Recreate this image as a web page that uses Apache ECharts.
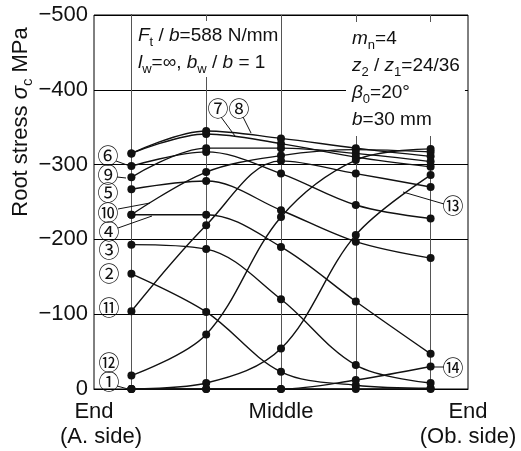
<!DOCTYPE html>
<html><head><meta charset="utf-8">
<script src="https://cdn.jsdelivr.net/npm/echarts@6/dist/echarts.min.js"></script>
<style>html,body{margin:0;padding:0;background:#fff}#c{width:521px;height:451px}</style>
</head><body><div id="c"></div>
<script>
// positions along face width (End A-side ... Middle ... End Ob-side)
const positions = [0, 1, 2, 3, 4];
const xTickValues = [-0.5, 2, 4.5];
const xTickLabels = ['{n|End}\n{a|(A. side)}', '{n|Middle}', '{n|End}\n{n|(Ob. side)}'];
const seriesNames = ['①','②','③','④','⑤','⑥','⑦','⑧','⑨','⑩','⑪','⑫','⑬','⑭'];
// root stress values, MPa
const s01 = [0, 0, 0, 0, 0];
const s02 = [-154, -103, -23, -5, -1];
const s03 = [-193, -187, -120, -32, -8];
const s04 = [-233, -233, -190, -117, -47];
const s05 = [-267, -278, -239, -197, -175];
const s06 = [-298, -317, -288, -246, -228];
const s07 = [-315, -341, -328, -310, -297];
const s08 = [-315, -345, -335, -322, -311];
const s09 = [-283, -322, -322, -315, -304];
const s10 = [-233, -290, -312, -320, -317];
const s11 = [-104, -219, -305, -288, -270];
const s12 = [-18, -73, -230, -306, -321];
const s13 = [0, -8, -54, -206, -286];
const s14 = [0, 0, 0, -12, -30];
const allSeries = [s01,s02,s03,s04,s05,s06,s07,s08,s09,s10,s11,s12,s13,s14];

const INK = '#111';
const FONT = 'Liberation Sans, Arial, sans-serif';
const chart = echarts.init(document.getElementById('c'), null, {renderer: 'canvas'});

const series = allSeries.map((vals, k) => {
  const s = {
    type: 'line', name: seriesNames[k],
    data: positions.map((p, i) => [p, vals[i]]),
    smooth: 0.35, symbol: 'circle', symbolSize: 8,
    itemStyle: {color: INK}, lineStyle: {color: INK, width: 1.4},
    z: 3, animation: false
  };
  if (k === 0) {
    s.markLine = {
      silent: true, symbol: ['none', 'none'], label: {show: false}, z: 1,
      lineStyle: {color: '#555', width: 1, type: 'solid'},
      animation: false,
      data: positions.map(p => ({xAxis: p}))
    };
  }
  return s;
});

const annRich = {
  n: {fontSize: 19, fontFamily: FONT, lineHeight: 27, fill: INK},
  i: {fontSize: 19, fontFamily: FONT, fontStyle: 'italic', lineHeight: 27, fill: INK},
  s: {fontSize: 13, fontFamily: FONT, verticalAlign: 'bottom', lineHeight: 17, fill: INK}
};
const nameRich = {
  n: {fontSize: 22, fontFamily: FONT, lineHeight: 28, fill: INK},
  i: {fontSize: 22, fontFamily: FONT, fontStyle: 'italic', lineHeight: 28, fill: INK},
  s: {fontSize: 15, fontFamily: FONT, verticalAlign: 'bottom', lineHeight: 19, fill: INK}
};

function circ(t, x, y) {
  return {type: 'text', x: x, y: y, z: 100, silent: true,
    style: {text: t, fontSize: 21, fontFamily: '"Noto Sans CJK JP", "DejaVu Sans"', fill: INK, align: 'center', verticalAlign: 'middle'}};
}
function lead(x1, y1, x2, y2) {
  return {type: 'line', z: 100, silent: true, shape: {x1, y1, x2, y2}, style: {stroke: INK, lineWidth: 1}};
}

const graphics = [
  {type: 'text', x: 21, y: 122, rotation: Math.PI / 2, z: 100, silent: true,
   style: {text: '{n|Root stress }{i|σ}{s|c}{n| MPa}', rich: nameRich, align: 'center', verticalAlign: 'middle'}},
  {type: 'text', x: 136, y: 21, z: 100, silent: true,
   style: {text: '{i|F}{s|t}{n| / }{i|b}{n|=588 N/mm}\n{i|l}{s|w}{n|=∞, }{i|b}{s|w}{n| / }{i|b}{n| = 1}',
     rich: annRich, backgroundColor: '#fff', padding: [1, 2, 1, 2]}},
  {type: 'text', x: 346, y: 22, z: 100, silent: true,
   style: {text: '{i|m}{s|n}{n|=4}\n{i|z}{s|2}{n| / }{i|z}{s|1}{n|=24/36}\n{i|β}{s|0}{n|=20°}\n{i|b}{n|=30 mm}',
     rich: annRich, backgroundColor: '#fff', padding: [3, 5, 3, 6]}},
  circ('⑥', 108, 155), circ('⑨', 108, 174), circ('⑤', 108, 192), circ('⑩', 108, 212),
  circ('④', 109, 231), circ('③', 109, 249), circ('②', 109, 273), circ('⑪', 109, 307),
  circ('⑫', 109, 362), circ('①', 109, 381),
  circ('⑦', 218, 108), circ('⑧', 239, 108), circ('⑬', 453, 205), circ('⑭', 453, 367),
  lead(116, 161, 130, 166), lead(117, 177, 126, 178), lead(118, 209, 150, 203),
  lead(118, 228, 152, 216), lead(117, 386, 128, 389),
  lead(221, 117, 235, 136), lead(243, 117, 251, 133),
  lead(444, 204, 403, 192), lead(444, 367, 432, 367)
];

chart.setOption({
  animation: false,
  backgroundColor: '#fff',
  grid: {left: 94, top: 15, width: 374, height: 374, show: true, borderColor: '#000', borderWidth: 1, backgroundColor: 'transparent'},
  xAxis: {
    type: 'value', min: -0.5, max: 4.5, interval: 2.5,
    axisLine: {show: true, lineStyle: {color: '#000', width: 1}},
    axisTick: {show: false}, splitLine: {show: false},
    axisLabel: {
      show: true, showMinLabel: true, showMaxLabel: true, margin: 10, lineHeight: 25,
      fontSize: 22, fontFamily: FONT, color: INK,
      formatter: v => { const k = xTickValues.findIndex(t => Math.abs(t - v) < 1e-6); return k < 0 ? '' : xTickLabels[k]; },
      rich: {
        a: {fontSize: 22, fontFamily: FONT, color: INK, lineHeight: 25, padding: [0, 0, 0, 14]},
        n: {fontSize: 22, fontFamily: FONT, color: INK, lineHeight: 25}
      }
    }
  },
  yAxis: {
    type: 'value', inverse: true, min: -500, max: 0, interval: 100,
    axisLine: {show: true, lineStyle: {color: '#000', width: 1}},
    axisTick: {show: false},
    splitLine: {show: true, lineStyle: {color: '#000', width: 1}},
    axisLabel: {margin: 6, fontSize: 22, fontFamily: FONT, color: INK,
      formatter: v => v === 0 ? '0' : '\u2212' + Math.abs(v)}
  },
  series: series,
  graphic: graphics
});
</script></body></html>
